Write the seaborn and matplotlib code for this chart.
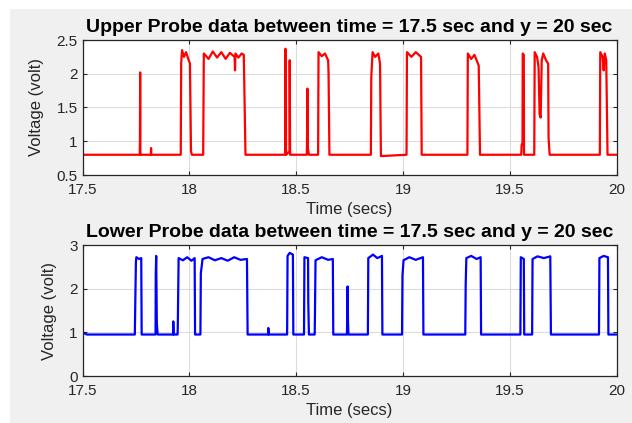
import matplotlib
matplotlib.use("Agg")
import matplotlib.pyplot as plt
import seaborn as sns
import pandas as pd
from matplotlib.patches import Rectangle

# ---------------- data ----------------
upper_time = [
    17.500, 17.768, 17.769, 17.770, 17.771, 17.772, 17.820, 17.821, 17.822,
    17.960, 17.962, 17.966, 17.975, 17.985, 17.995, 18.003, 18.008, 18.012,
    18.065, 18.068, 18.090, 18.110, 18.130, 18.150, 18.170, 18.190, 18.212, 18.214, 18.216,
    18.230, 18.245, 18.255, 18.258, 18.263,
    18.449, 18.450, 18.451, 18.452, 18.453, 18.454, 18.469, 18.470, 18.472,
    18.550, 18.551, 18.553, 18.555, 18.560,
    18.603, 18.605, 18.620, 18.635, 18.650, 18.652, 18.656,
    18.850, 18.852, 18.858, 18.870, 18.885, 18.893, 18.897,
    19.017, 19.019, 19.040, 19.060, 19.085, 19.088,
    19.302, 19.304, 19.320, 19.335, 19.355, 19.361,
    19.554, 19.556, 19.560, 19.561, 19.566, 19.567,
    19.615, 19.617, 19.628, 19.635, 19.640, 19.645, 19.650, 19.657, 19.670, 19.680, 19.682, 19.687,
    19.922, 19.924, 19.935, 19.940, 19.945, 19.952, 19.955, 19.958, 20.000,
]
upper_volt = [
    0.80, 0.80, 1.05, 2.02, 0.85, 0.80, 0.80, 0.90, 0.80,
    0.80, 2.15, 2.35, 2.25, 2.32, 2.22, 2.15, 0.85, 0.80,
    0.80, 2.30, 2.22, 2.33, 2.24, 2.32, 2.22, 2.31, 2.25, 2.05, 2.30,
    2.24, 2.30, 2.28, 1.75, 0.80,
    0.80, 2.37, 0.85, 2.30, 0.85, 0.80, 0.85, 2.20, 0.80,
    0.80, 0.95, 1.78, 0.90, 0.80,
    0.80, 2.32, 2.26, 2.30, 2.20, 2.00, 0.80,
    0.80, 1.95, 2.32, 2.25, 2.30, 2.15, 0.78,
    0.80, 2.32, 2.25, 2.32, 2.25, 0.80,
    0.80, 2.30, 2.22, 2.28, 2.12, 0.80,
    0.80, 0.95, 0.95, 2.30, 2.28, 0.80,
    0.80, 2.32, 2.25, 2.10, 1.40, 1.35, 2.20, 2.30, 2.20, 2.15, 1.05, 0.80,
    0.80, 2.32, 2.25, 2.05, 2.30, 2.20, 1.50, 0.80, 0.80,
]

lower_time = [
    17.500, 17.520, 17.745, 17.746, 17.750, 17.752, 17.765, 17.775, 17.777,
    17.842, 17.843, 17.845, 17.848, 17.852,
    17.924, 17.925, 17.927,
    17.945, 17.946, 17.950, 17.970, 17.990, 18.010, 18.025, 18.027,
    18.052, 18.054, 18.062, 18.090, 18.120, 18.150, 18.180, 18.210, 18.240, 18.270, 18.273,
    18.369, 18.370, 18.372,
    18.458, 18.460, 18.470, 18.485, 18.487,
    18.537, 18.539, 18.556, 18.557, 18.560,
    18.587, 18.588, 18.591, 18.620, 18.650, 18.672, 18.674,
    18.738, 18.739, 18.741, 18.743, 18.745,
    18.836, 18.838, 18.860, 18.880, 18.902, 18.904,
    18.996, 18.998, 19.003, 19.030, 19.060, 19.094, 19.096,
    19.292, 19.294, 19.297, 19.320, 19.345, 19.364, 19.366,
    19.550, 19.552, 19.566, 19.568,
    19.605, 19.607, 19.630, 19.660, 19.690, 19.693,
    19.918, 19.920, 19.940, 19.960, 19.962, 20.000,
]
lower_volt = [
    1.00, 0.95, 0.95, 1.30, 2.60, 2.72, 2.68, 2.70, 0.95,
    0.95, 2.35, 2.75, 1.20, 0.95,
    0.95, 1.25, 0.95,
    0.95, 1.10, 2.70, 2.65, 2.72, 2.64, 2.70, 0.95,
    0.95, 2.35, 2.68, 2.72, 2.65, 2.70, 2.64, 2.72, 2.66, 2.68, 0.95,
    0.95, 1.10, 0.95,
    0.95, 2.75, 2.82, 2.78, 0.95,
    0.95, 2.72, 2.70, 1.70, 0.95,
    0.95, 1.30, 2.65, 2.72, 2.66, 2.68, 0.95,
    0.95, 1.25, 2.05, 1.25, 0.95,
    0.95, 2.70, 2.78, 2.70, 2.75, 0.95,
    0.95, 2.30, 2.65, 2.72, 2.66, 2.72, 0.95,
    0.95, 2.10, 2.70, 2.75, 2.68, 2.72, 0.95,
    0.95, 2.72, 2.68, 0.95,
    0.95, 2.68, 2.74, 2.70, 2.74, 0.95,
    0.95, 2.70, 2.75, 2.72, 0.95, 0.95,
]

x_ticks = [17.5, 18, 18.5, 19, 19.5, 20]
x_tick_labels = ["17.5", "18", "18.5", "19", "19.5", "20"]
upper_y_ticks = [0.5, 1, 1.5, 2, 2.5]
upper_y_labels = ["0.5", "1", "1.5", "2", "2.5"]
lower_y_ticks = [0, 1, 2, 3]
lower_y_labels = ["0", "1", "2", "3"]

upper_title = "Upper Probe data between time = 17.5 sec and y = 20 sec"
lower_title = "Lower Probe data between time = 17.5 sec and y = 20 sec"

# ---------------- figure ----------------
sns.set_theme(style="whitegrid")
plt.rcParams['font.family'] = ['Liberation Sans', 'DejaVu Sans']

W, H = 632, 423
fig = plt.figure(figsize=(W / 100, H / 100), dpi=100)
fig.patch.set_facecolor("white")
fig.patches.append(Rectangle((10 / W, 0), 1 - 10 / W, 1 - 9 / H,
                             transform=fig.transFigure, facecolor="#f0f0f0",
                             edgecolor="none", zorder=-10))

text_col = "#262626"

def px_axes(left, top, right, bottom):
    return [left / W, 1 - bottom / H, (right - left) / W, (bottom - top) / H]

ax1 = fig.add_axes(px_axes(82.5, 40, 616.5, 175))
ax2 = fig.add_axes(px_axes(82.5, 245, 616.5, 376))

upper_df = pd.DataFrame({"Time": upper_time, "Voltage": upper_volt})
lower_df = pd.DataFrame({"Time": lower_time, "Voltage": lower_volt})

sns.lineplot(data=upper_df, x="Time", y="Voltage", ax=ax1, color="#ff0000",
             linewidth=1.6, estimator=None, sort=False)
sns.lineplot(data=lower_df, x="Time", y="Voltage", ax=ax2, color="#0000ff",
             linewidth=1.6, estimator=None, sort=False)

for ax, yt, yl, ylim, title in [
    (ax1, upper_y_ticks, upper_y_labels, (0.5, 2.5), upper_title),
    (ax2, lower_y_ticks, lower_y_labels, (0, 3), lower_title),
]:
    ax.set_facecolor("white")
    ax.set_xlim(17.5, 20)
    ax.set_ylim(*ylim)
    ax.set_xticks(x_ticks)
    ax.set_xticklabels(x_tick_labels)
    ax.set_yticks(yt)
    ax.set_yticklabels(yl)
    ax.grid(True, color="#dcdcdc", linewidth=0.8)
    ax.set_axisbelow(True)
    for s in ax.spines.values():
        s.set_visible(True)
        s.set_color("#262626")
        s.set_linewidth(0.9)
    ax.tick_params(axis="both", direction="in", length=3, width=0.8,
                   colors=text_col, labelsize=11,
                   top=True, right=True, bottom=True, left=True)
    ax.tick_params(axis="x", pad=5.5)
    ax.tick_params(axis="y", pad=3.5)
    ax.set_xlabel("Time (secs)", fontsize=12, color=text_col, labelpad=4)
    ax.set_ylabel("Voltage (volt)", fontsize=12, color=text_col, labelpad=9)
    ax.set_title(title, fontsize=14, fontweight="bold", color="black",
                 loc="center", pad=6)

fig.savefig("out.png", dpi=100)
